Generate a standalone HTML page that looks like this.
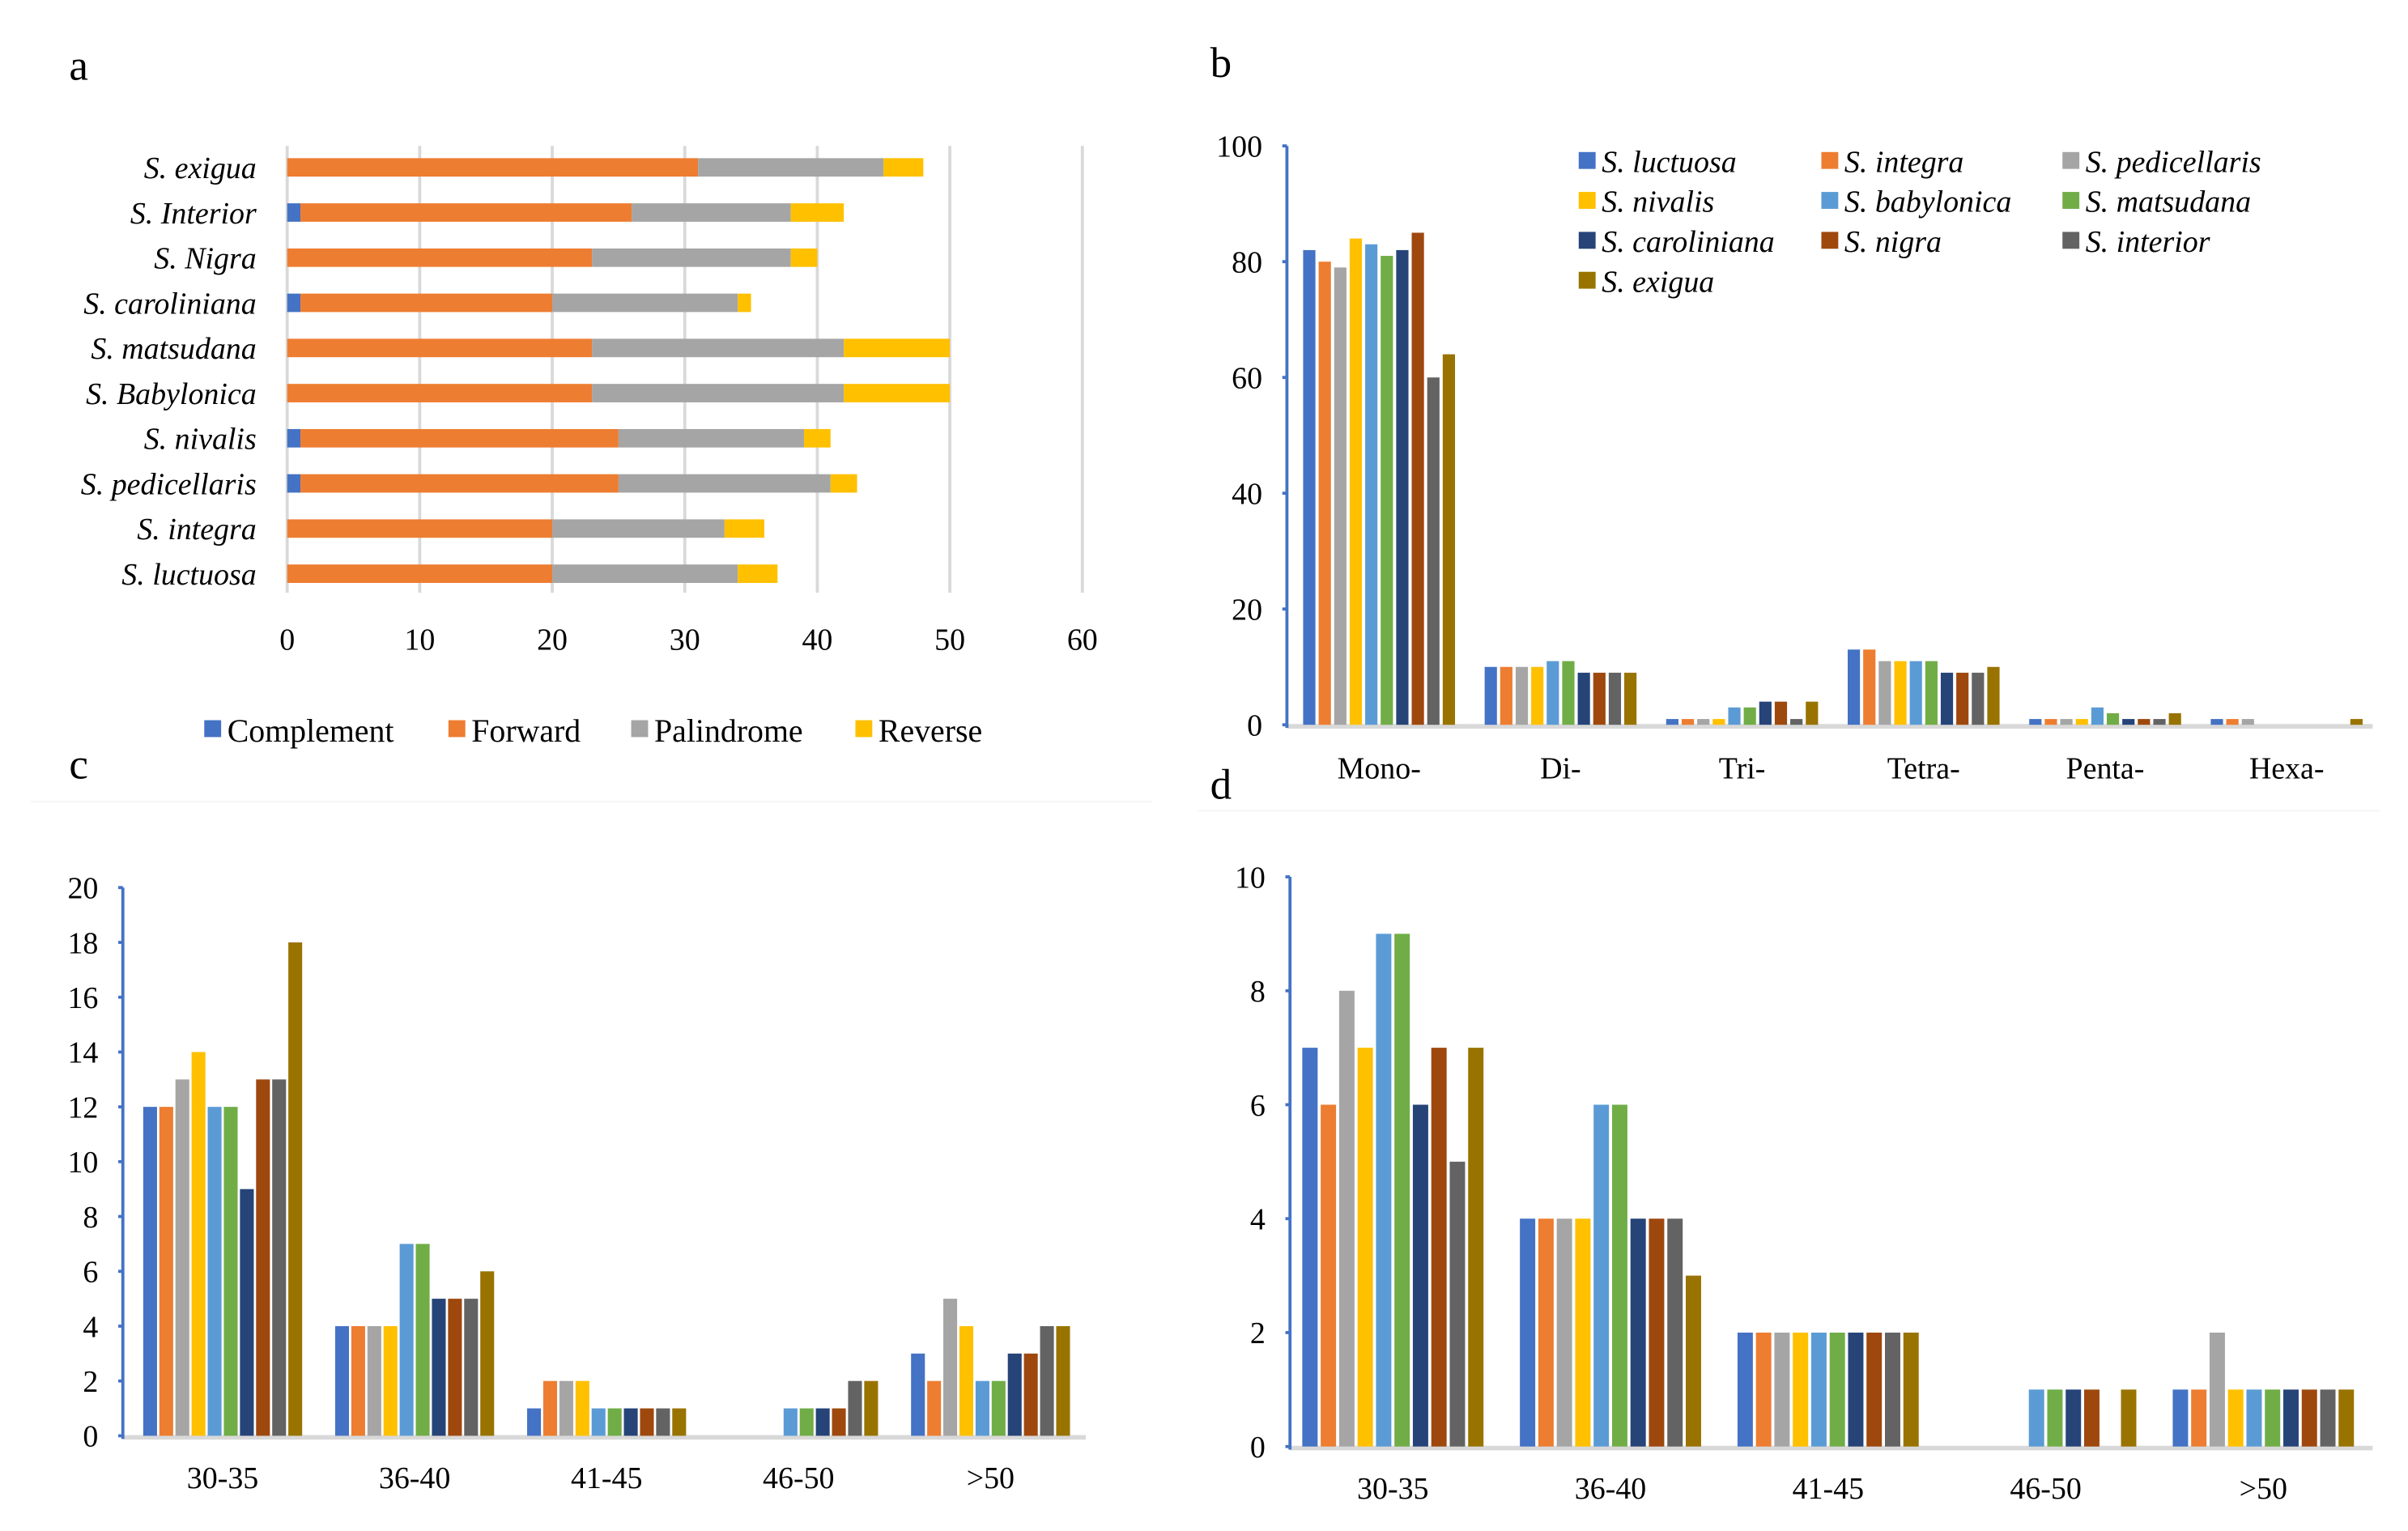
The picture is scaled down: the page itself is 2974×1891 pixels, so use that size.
<!DOCTYPE html>
<html><head><meta charset="utf-8"><style>
html,body{margin:0;padding:0;background:#fff;}
svg{display:block;font-family:"Liberation Serif",serif;}
svg text{font-family:"Liberation Serif",serif;}
</style></head><body>
<svg id="fig" width="2974" height="1891" viewBox="0 0 1568 997" font-family="Liberation Serif, serif" xmlns="http://www.w3.org/2000/svg">
<rect width="1568" height="997" fill="#fff"/>
<line x1="20" x2="750" y1="522" y2="522" stroke="#f4f4f4" stroke-width="1"/>
<line x1="780" x2="1550" y1="528" y2="528" stroke="#f4f4f4" stroke-width="1"/>
<text x="45" y="52" font-size="28">a</text>
<text x="788" y="50" font-size="28">b</text>
<text x="45" y="507" font-size="28">c</text>
<text x="788" y="520" font-size="28">d</text>
<g id="ga"></g>
<g id="gb"></g>
<g id="gc"></g>
<g id="gd"></g>
</svg>
<script>
const NS="http://www.w3.org/2000/svg";
// Panel a data
const aSpecies=["S. exigua","S. Interior","S. Nigra","S. caroliniana","S. matsudana","S. Babylonica","S. nivalis","S. pedicellaris","S. integra","S. luctuosa"];
const aComplement=[0,1,0,1,0,0,1,1,0,0];
const aForward=[31,25,23,19,23,23,24,24,20,20];
const aPalindrome=[14,12,15,14,19,19,14,16,13,14];
const aReverse=[3,4,2,1,8,8,2,2,3,3];
const aTicks=[0,10,20,30,40,50,60];
const aSeriesNames=["Complement","Forward","Palindrome","Reverse"];
// Shared species
const species=["S. luctuosa","S. integra","S. pedicellaris","S. nivalis","S. babylonica","S. matsudana","S. caroliniana","S. nigra","S. interior","S. exigua"];
const colors=["#4472C4","#ED7D31","#A5A5A5","#FFC000","#5B9BD5","#70AD47","#264478","#9E480E","#636363","#997300"];
// Panel b
const bCats=["Mono-","Di-","Tri-","Tetra-","Penta-","Hexa-"];
const bVals=[[82,80,79,84,83,81,82,85,60,64],[10,10,10,10,11,11,9,9,9,9],[1,1,1,1,3,3,4,4,1,4],[13,13,11,11,11,11,9,9,9,10],[1,1,1,1,3,2,1,1,1,2],[1,1,1,0,0,0,0,0,0,1]];
const bTicks=[0,20,40,60,80,100];
// Panel c
const cCats=["30-35","36-40","41-45","46-50",">50"];
const cVals=[[12,12,13,14,12,12,9,13,13,18],[4,4,4,4,7,7,5,5,5,6],[1,2,2,2,1,1,1,1,1,1],[0,0,0,0,1,1,1,1,2,2],[3,2,5,4,2,2,3,3,4,4]];
const cTicks=[0,2,4,6,8,10,12,14,16,18,20];
// Panel d
const dCats=["30-35","36-40","41-45","46-50",">50"];
const dVals=[[7,6,8,7,9,9,6,7,5,7],[4,4,4,4,6,6,4,4,4,3],[2,2,2,2,2,2,2,2,2,2],[0,0,0,0,1,1,1,1,0,1],[1,1,2,1,1,1,1,1,1,1]];
const dTicks=[0,2,4,6,8,10];

function mk(parent,tag,attrs,text){const e=document.createElementNS(NS,tag);for(const k in attrs)e.setAttribute(k,attrs[k]);if(text!==undefined){e.textContent=text;e.setAttribute('font-family','Liberation Serif, serif');}parent.appendChild(e);return e;}

// ---- Panel a
(function(){
const g=document.getElementById('ga');
const x=v=>187+v*8.63;
const y=i=>109+i*29.4;
aTicks.forEach(t=>{
 const l=mk(g,'line',{x1:x(t),x2:x(t),y1:95,y2:386,stroke:'#d9d9d9','stroke-width':2});
 
 
 const tx=mk(g,'text',{x:x(t),y:423,'font-size':20,'text-anchor':'middle'},t);
 
 
});
const series=[aComplement,aForward,aPalindrome,aReverse];
const sc=["#4472C4","#ED7D31","#A5A5A5","#FFC000"];
aSpecies.forEach((s,i)=>{
 const lb=mk(g,'text',{x:167,y:y(i)+7,'font-size':20,'font-style':'italic','text-anchor':'end'},s);
 
 
 let acc=0;
 series.forEach((arr,k)=>{
  const v=arr[i];
  if(v>0){
   const r=mk(g,'rect',{x:x(acc),y:y(i)-6,width:x(acc+v)-x(acc),height:12,fill:sc[k]});
   
   
  }
  acc+=v;
 });
});
const lx=[133,292,411,557];
aSeriesNames.forEach((n,k)=>{
 const r=mk(g,'rect',{x:lx[k],y:469,width:11,height:11,fill:sc[k]});
 
 
 const t=mk(g,'text',{x:lx[k]+15,y:483,'font-size':21},n);
 
 
});
})();

function columnChart(gid,cats,vals,ticks,x0,xEnd,y0,yTop,vmax,c0,cstep,bstep,bw,labY,tag){
 const g=document.getElementById(gid);
 const y=v=>y0-(v/vmax)*(y0-yTop);
 const ax=mk(g,'line',{x1:x0,x2:xEnd,y1:y0+1,y2:y0+1,stroke:'#d9d9d9','stroke-width':3});
 
 
 const ay=mk(g,'line',{x1:x0,x2:x0,y1:yTop,y2:y0+2,stroke:'#4472C4','stroke-width':2});
 
 
 ticks.forEach(t=>{
  const tk=mk(g,'line',{x1:x0-3,x2:x0,y1:y(t),y2:y(t),stroke:'#4472C4','stroke-width':2});
  
  
  const tx=mk(g,'text',{x:x0-16,y:y(t)+7,'font-size':20,'text-anchor':'end'},t);
  
  
 });
 cats.forEach((c,i)=>{
  const cx=c0+i*cstep;
  const cl=mk(g,'text',{x:cx,y:labY,'font-size':20,'text-anchor':'middle'},c);
  
  
  vals[i].forEach((v,k)=>{
   if(v<=0)return;
   const bx=cx+(k-4.5)*bstep-bw/2;
   const r=mk(g,'rect',{x:bx,y:y(v),width:bw,height:y0-y(v),fill:colors[k]});
   
   
  });
 });
}
columnChart('gb',bCats,bVals,bTicks,838,1545,472,95,100,898,118.2,10.1,8,507,'b');
columnChart('gc',cCats,cVals,cTicks,80,707,935,578,20,145,125,10.5,9,969,'c');
columnChart('gd',dCats,dVals,dTicks,840,1545,942,571,10,907,141.7,12,10,976,'d');

// legend b
(function(){
 const g=document.getElementById('gb');
 const cols=[1028,1186,1343], rows=[105,131,157,183];
 species.forEach((s,i)=>{
  const cx=cols[i%3], ry=rows[Math.floor(i/3)];
  const r=mk(g,'rect',{x:cx,y:ry-6,width:11,height:11,fill:colors[i]});
  
  
  const t=mk(g,'text',{x:cx+15,y:ry+7,'font-size':20,'font-style':'italic'},s);
  
  
 });
})();
</script>
</body></html>
